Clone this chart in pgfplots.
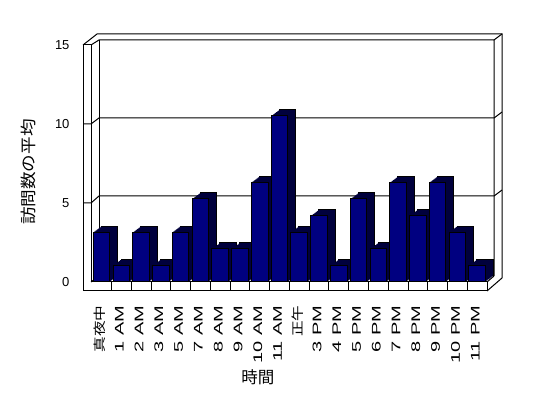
\documentclass[border=0pt]{standalone}
\usepackage{pgfplots}
\pgfplotsset{compat=1.18}
\usepackage{fontspec}
\setmainfont{Liberation Sans}
\newfontfamily\cjk{Noto Sans CJK JP}
\newfontfamily\cjkA[FakeStretch=1.25]{Noto Sans CJK JP}
\newfontfamily\cjkB[FakeStretch=1.1]{Noto Sans CJK JP}
\newfontfamily\wide[FakeStretch=1.6]{Liberation Sans}
\definecolor{navy}{RGB}{0,0,128}
\definecolor{darkside}{RGB}{0,0,60}
\pgfplotstableread{
x y
0 3
1 1
2 3
3 1
4 3
5 5
6 2
7 2
8 6
9 10
10 3
11 4
12 1
13 5
14 2
15 6
16 4
17 6
18 3
19 1
}\visits
\begin{document}
\begin{tikzpicture}
\useasboundingbox (0,0) rectangle (548pt,398pt);
\begin{scope}[shift={(0pt,398pt)}, x=1pt, y=-1pt, line width=1pt, line join=miter]
\draw (83,45) -- (83,291) -- (487,291) -- (487,282);
\draw (91,45) -- (91,282) -- (487,282);
\draw (83,45) -- (91,45);
\draw (83,45) -- (97,34) -- (502,34) -- (502,278) -- (487,291);
\draw (91,45) -- (99,40) -- (494,40) -- (494,276);
\draw (494,40) -- (502,34);
\draw (99,40) -- (99,276) -- (494,276);
\draw (91,282) -- (99,276);
\draw (487,282) -- (494,276);
\draw (83,203) -- (91,203) -- (99,196) -- (494,196) -- (502,190);
\draw (83,124) -- (91,124) -- (99,118) -- (494,118) -- (502,112);
\end{scope}

\begin{axis}[at={(83pt,116pt)}, anchor=south west, scale only axis,
  width=404pt, height=237pt, xmin=0, xmax=1, ymin=0, ymax=15,
  ytick={0,5,10,15}, xtick=\empty, axis line style={draw=none},
  major tick length=0pt, ytick pos=left,
  yticklabel={\pgfmathprintnumber[assume math mode=true]{\tick}},
  yticklabel style={font=\fontsize{13}{14}\selectfont, xshift=-10pt},
  ylabel={\cjkB 訪問数の平均},
  ylabel style={font=\fontsize{16}{18}\selectfont, at={(axis description cs:-0.136,0.464)}, anchor=center},
  xlabel={\cjk 時間},
  xlabel style={font=\fontsize{16.5}{18}\selectfont, at={(axis description cs:0.433,-0.403)}, anchor=center}]
\end{axis}

\begin{axis}[at={(91.7pt,116pt)}, anchor=south west, scale only axis,
  width=395.4pt, height=249pt, xmin=-0.5, xmax=19.5, ymin=0, ymax=15,
  ybar, bar width=16.6pt, axis line style={draw=none}, ytick=\empty,
  xtick={0,...,19}, xtick pos=bottom,
  xticklabels={{\cjkA 真夜中},1 AM,2 AM,3 AM,5 AM,7 AM,8 AM,9 AM,10 AM,11 AM,{\cjkA 正午},3 PM,4 PM,5 PM,6 PM,7 PM,8 PM,9 PM,10 PM,11 PM},
  minor xtick={0.5,1.5,...,18.5}, tick align=outside,
  major tick length=0pt, minor tick length=9pt,
  minor tick style={black, line width=1pt},
  xticklabel style={font=\fontsize{12.5}{14}\selectfont\wide, yshift=-20pt, xshift=-2pt, rotate=90, anchor=east},
  clip=false]
\addplot[fill=darkside, draw=black, line width=1pt, bar shift=0pt, xshift=8pt, yshift=6pt, forget plot] table[x=x,y=y] {\visits};
\pgfplotsinvokeforeach{7,6,5,4,3,2,1}{
\addplot[fill=darkside, draw=none, bar shift=0pt, xshift=#1pt, yshift=0.75*#1pt, forget plot] table[x=x,y=y] {\visits};
}
\addplot[fill=navy, draw=black, line width=1pt, bar shift=0pt] table[x=x,y=y] {\visits};
\end{axis}
\end{tikzpicture}
\end{document}
